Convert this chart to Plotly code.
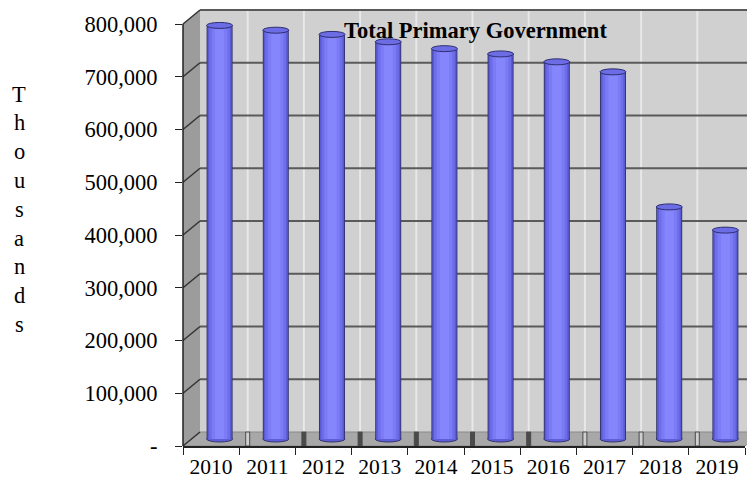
import plotly.graph_objects as go

# ---------------- data ----------------
YEARS = ["2010", "2011", "2012", "2013", "2014", "2015", "2016", "2017", "2018", "2019"]
VALUES = [784000, 775000, 767000, 753000, 740000, 730000, 715000, 696000, 440000, 396000]
Y_TICKS = [0, 100000, 200000, 300000, 400000, 500000, 600000, 700000, 800000]
Y_TICK_TEXT = ["-", "100,000", "200,000", "300,000", "400,000", "500,000",
               "600,000", "700,000", "800,000"]
TITLE = "Total Primary Government"
Y_TITLE = "Thousands"
HOLLOW_FLOOR_TICKS = [1, 7, 8, 9]

# ---------------- layout constants ----------------
PAGE_OFF = 8                     # default body margin of the html page
W, H = 755 - PAGE_OFF, 479 - PAGE_OFF
ML, MR, MT, MB = 183 - PAGE_OFF, 10, 8 - PAGE_OFF, 33
PW = W - ML - MR
PH = H - MT - MB
YTOP = 800000
Y_PX = 422                       # pixels from 0 to 800,000 on the front plane
YMAX = YTOP * PH / Y_PX
N = len(YEARS)
CAT_PX = PW / N
DX, DY = 17, 14                  # depth offset (px) of the back wall
BAR_FRAC = 0.463
ELL_PX = 3
EV = ELL_PX * YTOP / Y_PX
SHIFT_C = (DX / 2) / CAT_PX
SHIFT_V = (DY / 2) * YTOP / Y_PX
FONT = "Liberation Serif, Times New Roman, serif"
FS = 22.5
FS_X = 21.5


def P(c, v, d):
    """paper coords of category position c, value v, depth d (0 front, 1 back)"""
    x = (c + 0.5) / N + d * DX / PW
    y = v / YMAX + d * DY / PH
    return x, y


def path(points):
    return "M " + " L ".join(f"{x:.5f},{y:.5f}" for x, y in points) + " Z"


shapes = []
c0, c1 = -0.5, N - 0.5
# back wall
shapes.append(dict(type="path", xref="paper", yref="paper", layer="below",
                   path=path([P(c0, 0, 1), P(c1, 0, 1), P(c1, YTOP, 1), P(c0, YTOP, 1)]),
                   fillcolor="#d0d0d0", line=dict(width=0)))
# left wall
shapes.append(dict(type="path", xref="paper", yref="paper", layer="below",
                   path=path([P(c0, 0, 0), P(c0, 0, 1), P(c0, YTOP, 1), P(c0, YTOP, 0)]),
                   fillcolor="#9c9c9c", line=dict(width=0)))
# floor
shapes.append(dict(type="path", xref="paper", yref="paper", layer="below",
                   path=path([P(c0, 0, 0), P(c1, 0, 0), P(c1, 0, 1), P(c0, 0, 1)]),
                   fillcolor="#a8a8a8", line=dict(color="#8a8a8a", width=1)))
# light vertical stripes on back wall
for k in range(1, N):
    x, _ = P(k - 0.5, 0, 0.5)
    _, ya = P(0, 0, 1)
    _, yb = P(0, YTOP, 1)
    shapes.append(dict(type="line", xref="paper", yref="paper", layer="below",
                       x0=x, x1=x, y0=ya, y1=yb,
                       line=dict(color="rgba(255,255,255,0.5)", width=2)))
# back wall gridlines
for v in Y_TICKS[1:]:
    xa, ya = P(c0, v, 1)
    xb, yb = P(c1, v, 1)
    shapes.append(dict(type="line", xref="paper", yref="paper", layer="below",
                       x0=xa, x1=xb, y0=ya, y1=yb,
                       line=dict(color="#5a5a5a", width=2)))
# left wall diagonals
for v in Y_TICKS:
    xa, ya = P(c0, v, 0)
    xb, yb = P(c0, v, 1)
    shapes.append(dict(type="line", xref="paper", yref="paper", layer="below",
                       x0=xa, x1=xb, y0=ya, y1=yb,
                       line=dict(color="#333333", width=1.5)))
# floor tick marks
for k in range(1, N):
    x, _ = P(k - 0.5, 0, 0.5)
    hw = 2 / PW
    hollow = k in HOLLOW_FLOOR_TICKS
    shapes.append(dict(type="rect", xref="paper", yref="paper", layer="below",
                       x0=x - hw, x1=x + hw, y0=0, y1=DY / PH,
                       fillcolor="#cfcfcf" if hollow else "#4a4a4a",
                       line=dict(color="#4a4a4a", width=1)))
# bottom ellipses of cylinders
for i, v in enumerate(VALUES):
    shapes.append(dict(type="circle", xref="x2", yref="y2", layer="below",
                       x0=i - BAR_FRAC / 2, x1=i + BAR_FRAC / 2, y0=-EV, y1=EV,
                       fillcolor="#5e5ed8", line=dict(color="#34346e", width=1)))
# top ellipses of cylinders
for i, v in enumerate(VALUES):
    shapes.append(dict(type="circle", xref="x2", yref="y2", layer="above",
                       x0=i - BAR_FRAC / 2, x1=i + BAR_FRAC / 2, y0=v - EV, y1=v + EV,
                       fillcolor="#6c6ce4", line=dict(color="#2e2e70", width=1)))
# front y axis line
shapes.append(dict(type="line", xref="paper", yref="y", layer="above",
                   x0=0, x1=0, y0=0, y1=YTOP, line=dict(color="#222222", width=1.5)))

fig = go.Figure()
fig.add_trace(go.Scatter(x=YEARS, y=VALUES, mode="markers", marker=dict(opacity=0),
                         hoverinfo="skip", showlegend=False))
layers = [(1.00, "#34346e"), (0.93, "#5a5ad4"), (0.80, "#6e6eea"),
          (0.60, "#7b7bf6"), (0.35, "#8686fc")]
for frac, col in layers:
    fig.add_trace(go.Bar(x=YEARS, y=VALUES, xaxis="x2", yaxis="y2",
                         width=BAR_FRAC * frac, marker=dict(color=col, line=dict(width=0)),
                         hoverinfo="skip", showlegend=False))


def px_to_paper(px, py):
    """reference-image pixel position -> paper coords"""
    return (px - PAGE_OFF - ML) / PW, (MT + PH - (py - PAGE_OFF)) / PH


tx, ty = px_to_paper(475, 30)
annotations = [dict(text=f"<b>{TITLE}</b>", xref="paper", yref="paper", x=tx, y=ty,
                    xanchor="center", yanchor="middle", showarrow=False,
                    font=dict(family=FONT, size=FS, color="#000000"))]
for k, ch in enumerate(Y_TITLE):
    ax_, ay_ = px_to_paper(19, 94 + 28.8 * k)
    annotations.append(dict(text=ch, xref="paper", yref="paper", x=ax_, y=ay_,
                            xanchor="center", yanchor="middle", showarrow=False,
                            font=dict(family=FONT, size=FS, color="#000000")))

fig.update_layout(
    width=W, height=H,
    margin=dict(l=ML, r=MR, t=MT, b=MB, pad=0, autoexpand=False),
    paper_bgcolor="white", plot_bgcolor="rgba(0,0,0,0)",
    barmode="overlay", showlegend=False,
    shapes=shapes, annotations=annotations,
    xaxis=dict(type="category", categoryorder="array", categoryarray=YEARS,
               range=[-0.5, N - 0.5], tickson="boundaries", ticks="outside",
               ticklen=7, tickcolor="#222222", tickwidth=1.2,
               showline=True, linecolor="#222222", linewidth=1.5,
               showgrid=False, zeroline=False, fixedrange=True, automargin=False,
               tickfont=dict(family=FONT, size=FS_X, color="#000000"),
               ticklabelstandoff=0),
    yaxis=dict(range=[0, YMAX], tickmode="array", tickvals=Y_TICKS, ticktext=Y_TICK_TEXT,
               ticks="outside", ticklen=7, tickcolor="#222222", tickwidth=1.2,
               showline=False, showgrid=False, zeroline=False, fixedrange=True,
               automargin=False,
               tickfont=dict(family=FONT, size=FS, color="#000000"),
               ticklabelstandoff=13),
    xaxis2=dict(type="category", categoryorder="array", categoryarray=YEARS,
                overlaying="x", anchor="y2", automargin=False,
                range=[-0.5 - SHIFT_C, N - 0.5 - SHIFT_C], visible=False, fixedrange=True),
    yaxis2=dict(overlaying="y", anchor="x2", range=[-SHIFT_V, YMAX - SHIFT_V],
                automargin=False, visible=False, fixedrange=True),
)

fig.write_html("out.html")
